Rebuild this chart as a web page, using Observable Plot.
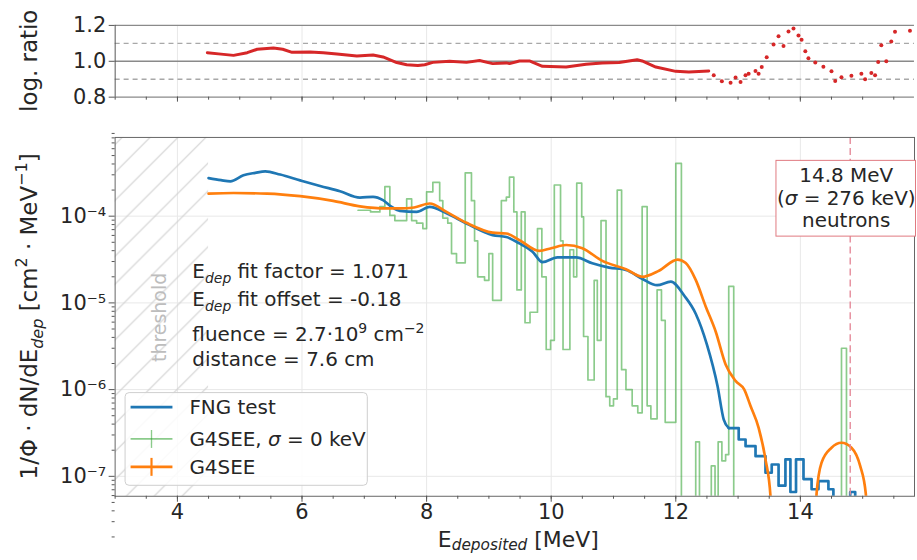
<!DOCTYPE html>
<html><head><meta charset="utf-8">
<script src="https://cdn.jsdelivr.net/npm/d3@7"></script>
<script src="https://cdn.jsdelivr.net/npm/@observablehq/plot@0.6"></script>
<style>
html,body{margin:0;padding:0;background:#fff;overflow:hidden;width:917px;height:560px}
#wrap{position:relative;width:917px;height:560px;overflow:hidden;background:#fff}
#top{position:absolute;left:0;top:0}
#bot{position:absolute;left:0;top:120px}
svg text{font-family:"DejaVu Sans",sans-serif}
</style></head><body><div id="wrap"><div id="top"></div><div id="bot"></div></div>
<script>
// ---------------- data ----------------
const xMajor = [4, 6, 8, 10, 12, 14];
const yMajor = [1e-7, 1e-6, 1e-5, 1e-4];
const ratioTicks = [0.8, 1.0, 1.2];
const ratioBands = [0.9, 1.1];
const thresholdRange = [3, 4.5];
const neutronEnergy = 14.8;

// FNG test (measured)
const blueE = [4.5, 4.7, 4.85, 5.06, 5.25, 5.41, 5.65, 5.97, 6.29, 6.61, 6.93, 7.14, 7.3, 7.44, 7.57, 7.84, 8.05, 8.32, 8.64, 9.06, 9.28, 9.49, 9.7, 9.86, 10.1, 10.4, 10.66, 10.93, 11.2, 11.46, 11.7, 11.92, 12.14, 12.32, 12.5, 12.67, 12.77, 12.85,
  13.01, 13.12, 13.28, 13.44, 13.54, 13.65, 13.76, 13.84, 13.93, 14.05, 14.18, 14.29, 14.45, 14.53, 14.8, 14.88, 15.0];
const blueV = [2.75e-4, 2.6e-4, 2.52e-4, 2.96e-4, 3.16e-4, 3.29e-4, 3.02e-4, 2.59e-4, 2.23e-4, 1.94e-4, 1.64e-4, 1.67e-4, 1.53e-4, 1.28e-4, 1.15e-4, 1.12e-4, 1.28e-4, 1.08e-4, 8.24e-5, 6.05e-5, 5.75e-5, 4.85e-5, 3.89e-5, 2.95e-5, 3.35e-5, 3.35e-5, 2.86e-5, 2.55e-5, 2.4e-5, 1.9e-5, 1.6e-5, 1.76e-5, 1.2e-5, 7.5e-6, 3.3e-6, 1.1e-6, 4.5e-7, 3.6e-7,
  2.66e-7, 2.23e-7, 1.71e-7, 1.1e-7, 1.37e-7, 7.8e-8, 1.57e-7, 6.6e-8, 1.57e-7, 9.3e-8, 7.1e-8, 8.8e-8, 7.1e-8, 0, 6.6e-8, 0, 0];
const blueStepFrom = 12.85;

// G4SEE, sigma = 0 keV (step histogram: left edge, value)
const greenE = [6.9, 7.1, 7.25, 7.33, 7.41, 7.49, 7.68, 7.76, 7.84, 7.94, 8.0, 8.1, 8.21, 8.26, 8.34, 8.4, 8.48, 8.62, 8.72, 8.77, 8.82, 8.93, 9.0, 9.06, 9.2, 9.28, 9.33, 9.4, 9.45, 9.52, 9.58, 9.66, 9.78, 9.85, 9.92, 9.99, 10.05, 10.15, 10.19, 10.3, 10.36, 10.41, 10.49, 10.52, 10.59, 10.69, 10.74, 10.8, 10.88, 10.94, 11.0, 11.06, 11.13, 11.2, 11.3, 11.39, 11.46, 11.54, 11.6, 11.7, 11.77, 11.83, 12.0, 12.09, 12.32, 12.38, 12.57, 12.63, 12.68, 12.74, 12.8, 12.85, 12.93, 14.66, 14.74, 15.0];
const greenV = [1.17e-4, 1.12e-4, 1.29e-4, 2.19e-4, 1.02e-4, 8.9e-5, 1.58e-4, 8.9e-5, 8.3e-5, 7.2e-5, 1.91e-4, 2.45e-4, 1.51e-4, 9.5e-5, 8.3e-5, 3.7e-5, 2.9e-5, 3.16e-4, 1.51e-4, 5.2e-5, 2.0e-5, 1.82e-5, 3.7e-5, 1.07e-5, 1.51e-4, 1.66e-4, 2.82e-4, 1.12e-4, 1.41e-5, 1.12e-4, 5.9e-6, 7.8e-6, 7.2e-5, 2.0e-5, 2.9e-6, 3.7e-6, 2.29e-4, 5.2e-5, 2.9e-6, 4.1e-5, 2.0e-5, 2.4e-4, 9.8e-5, 4.1e-6, 1.29e-6, 1.82e-5, 3.7e-6, 8.9e-5, 8.3e-7, 6.5e-7, 7.8e-7, 2.0e-4, 1.7e-6, 1.0e-6, 6.5e-7, 5.4e-7, 1.29e-4, 6.5e-7, 4.6e-7, 1.41e-5, 6.3e-6, 4.2e-7, 4.07e-4, 0, 2.5e-7, 0, 1.32e-7, 0, 2.5e-7, 1.51e-7, 1.78e-7, 1.55e-5, 0, 3.0e-6, 0, 0];

// G4SEE (smeared)
const orangeE = [4.5, 4.9, 5.44, 5.97, 6.5, 6.93, 7.36, 7.57, 7.8, 8.05, 8.32, 8.64, 9.06, 9.28, 9.49, 9.81, 10.0, 10.24, 10.5, 10.82, 11.2, 11.46, 11.73, 12.03, 12.16, 12.32, 12.48, 12.64, 12.8, 12.96, 13.1, 13.2, 13.33, 13.44, 13.52, 13.56, 14.21, 14.26, 14.34, 14.5, 14.66, 14.82, 14.96, 15.05, 15.1];
const orangeV = [1.82e-4, 1.85e-4, 1.82e-4, 1.7e-4, 1.5e-4, 1.3e-4, 1.23e-4, 1.23e-4, 1.26e-4, 1.4e-4, 1.12e-4, 8.38e-5, 6.46e-5, 6.31e-5, 5.3e-5, 3.98e-5, 4.27e-5, 4.65e-5, 4.27e-5, 3.05e-5, 2.45e-5, 2.0e-5, 2.35e-5, 3.16e-5, 2.88e-5, 1.84e-5, 9.1e-6, 4.68e-6, 1.95e-6, 1.26e-6, 1.0e-6, 6.46e-7, 3.63e-7, 1.57e-7, 5.9e-8, 0, 0, 6.3e-8, 1.44e-7, 2.14e-7, 2.44e-7, 2.14e-7, 1.32e-7, 6.3e-8, 0];

// log. ratio
const ratioE = [4.48, 4.7, 4.9, 5.12, 5.28, 5.54, 5.69, 5.84, 6.13, 6.34, 6.56, 6.88, 7.14, 7.3, 7.52, 7.68, 7.86, 7.97, 8.1, 8.37, 8.64, 8.85, 9.06, 9.28, 9.33, 9.49, 9.65, 9.86, 10.24, 10.56, 10.82, 11.09, 11.38, 11.46, 11.68, 12.0, 12.21, 12.53,
  12.61, 12.74, 12.88, 12.96, 13.04, 13.12, 13.17, 13.28, 13.33, 13.38, 13.46, 13.57, 13.65, 13.73, 13.81, 13.89, 13.97, 14.02, 14.08, 14.13, 14.24, 14.37, 14.5, 14.56, 14.66, 14.82, 14.98, 15.04, 15.14, 15.2, 15.25, 15.3, 15.38, 15.46, 15.52, 15.76];
const ratioV = [1.048, 1.04, 1.033, 1.048, 1.067, 1.074, 1.067, 1.05, 1.052, 1.048, 1.041, 1.03, 1.035, 1.024, 0.993, 0.981, 0.976, 0.981, 0.994, 1.0, 0.994, 1.004, 0.987, 0.991, 0.987, 1.002, 1.002, 0.972, 0.968, 0.983, 0.991, 0.993, 1.009, 1.002, 0.968, 0.944, 0.94, 0.946,
  0.922, 0.889, 0.88, 0.91, 0.885, 0.922, 0.93, 0.946, 0.93, 0.968, 1.022, 1.094, 1.139, 1.085, 1.166, 1.183, 1.144, 1.12, 1.056, 1.017, 0.993, 0.97, 0.944, 0.89, 0.911, 0.92, 0.93, 0.9, 0.935, 0.922, 0.996, 1.09, 1.0, 1.11, 1.165, 1.17];
const ratioDenseUntil = 12.55;

// ---------------- build ----------------
const FLOOR = 1e-9; // zero counts drawn below the axis on log scale
const toRows = (E, V) => E.map((x, i) => ({x, y: V[i] > 0 ? V[i] : FLOOR}));
const blue = toRows(blueE, blueV);
const green = toRows(greenE, greenV);
const orange = toRows(orangeE, orangeV);
const ratio = ratioE.map((x, i) => ({x, y: ratioV[i]}));

const W = 920, ML = 115, MR = 3;
const xDomain = [3, 3 + (917 - ML) / 62.5];
const xMinor = d3.range(3, 16, 0.5);
const yMinor = [];
for (let e = -8; e <= -4; e++) for (let m = 2; m <= 9; m++) yMinor.push(m * Math.pow(10, e));
const sup = {"-": "⁻", "0": "⁰", "1": "¹", "2": "²", "3": "³", "4": "⁴", "5": "⁵", "6": "⁶", "7": "⁷", "8": "⁸", "9": "⁹"};
const logFmt = d => "10" + String(Math.round(Math.log10(d))).split("").map(c => sup[c]).join("");
const FONT = "DejaVu Sans";
const TXT = "#262626";

const topPlot = Plot.plot({
  width: W, height: 120, marginLeft: ML, marginRight: MR, marginTop: 25, marginBottom: 23,
  style: {fontFamily: FONT, background: "white", color: TXT},
  x: {domain: xDomain},
  y: {domain: [0.8, 1.2]},
  marks: [
    Plot.gridX(xMajor, {stroke: "#e8e8e8", strokeOpacity: 1}),
    Plot.ruleY(ratioBands, {stroke: "#a8a8a8", strokeDasharray: "5,4", strokeWidth: 1.4}),
    Plot.ruleY([1.0], {stroke: "#8a8a8a", strokeWidth: 1.4}),
    Plot.ruleY([0.8, 1.2], {stroke: "#8a8a8a", strokeWidth: 1.2}),
    Plot.ruleX([xDomain[0]], {stroke: "#555", strokeWidth: 1}),
    Plot.line(ratio.filter(d => d.x <= ratioDenseUntil), {x: "x", y: "y", stroke: "#d62728", strokeWidth: 3}),
    Plot.dot(ratio.filter(d => d.x > ratioDenseUntil), {x: "x", y: "y", r: 2, fill: "#d62728", clip: true}),
    Plot.axisX({ticks: xMinor, tickSize: 3, text: null, label: null, stroke: "#555"}),
    Plot.axisX({ticks: xMajor, tickSize: 5, text: null, label: null, stroke: "#555"}),
    Plot.axisY({ticks: ratioTicks, tickSize: 6, tickPadding: 3, tickFormat: d3.format(".1f"), fontSize: 21, label: null, stroke: "#555"})
  ]
});

const botPlot = Plot.plot({
  width: W, height: 440, marginLeft: ML, marginRight: MR, marginTop: 17, marginBottom: 63,
  style: {fontFamily: FONT, background: "white", color: TXT},
  x: {domain: xDomain},
  y: {type: "log", domain: [5.89e-8, 8.09e-4]},
  marks: [
    Plot.gridX(xMajor, {stroke: "#e8e8e8", strokeOpacity: 1}),
    Plot.gridY(yMajor, {stroke: "#e8e8e8", strokeOpacity: 1}),
    Plot.rect([thresholdRange], {x1: d => d[0], x2: d => d[1], fill: "url(#hatch)"}),
    Plot.line(green, {x: "x", y: "y", curve: "step-after", stroke: "#2ca02c", strokeOpacity: 0.55, strokeWidth: 1.7, clip: true}),
    Plot.line(blue.filter(d => d.x <= blueStepFrom), {x: "x", y: "y", curve: "monotone-x", stroke: "#1f77b4", strokeWidth: 2.7, clip: true}),
    Plot.line(blue.filter(d => d.x >= blueStepFrom), {x: "x", y: "y", curve: "step-after", stroke: "#1f77b4", strokeWidth: 2.7, clip: true}),
    Plot.line(orange, {x: "x", y: "y", curve: "monotone-x", stroke: "#ff7f0e", strokeWidth: 2.7, clip: true}),
    Plot.ruleX([neutronEnergy], {stroke: "#e58a9a", strokeDasharray: "7,4", strokeWidth: 1.4}),
    Plot.frame({stroke: "#666", strokeWidth: 1}),
    Plot.axisX({ticks: xMinor, tickSize: 3, text: null, label: null, stroke: "#555"}),
    Plot.axisX({ticks: xMajor, tickSize: 6, tickPadding: 2, fontSize: 21, label: null, stroke: "#555"}),
    Plot.axisY({ticks: yMinor, tickSize: 3, text: null, label: null, stroke: "#555"}),
    Plot.axisY({ticks: yMajor, tickSize: 6, tickPadding: 3, tickFormat: logFmt, fontSize: 21, label: null, stroke: "#555"})
  ]
});

document.getElementById("top").appendChild(topPlot);
document.getElementById("bot").appendChild(botPlot);

// ---------------- decorations ----------------
const bs = d3.select(botPlot);
const ts = d3.select(topPlot);
const defs = bs.insert("defs", ":first-child");
const pat = defs.append("pattern").attr("id", "hatch").attr("patternUnits", "userSpaceOnUse").attr("width", 28).attr("height", 28);
pat.append("path").attr("d", "M-7,7 L7,-7 M0,28 L28,0 M21,35 L35,21").attr("stroke", "#d0d0d0").attr("stroke-width", 1.1).attr("fill", "none");

function rich(sel, x, y, parts, opts = {}) {
  const base = opts.size || 20;
  const t = sel.append("text").attr("x", x).attr("y", y).attr("fill", opts.fill || TXT)
    .attr("font-size", base).attr("font-family", FONT)
    .attr("text-anchor", opts.anchor || "start");
  if (opts.transform) t.attr("transform", opts.transform).attr("x", 0).attr("y", 0);
  let shift = 0;
  parts.forEach(p => {
    const [s, kind] = typeof p === "string" ? [p, ""] : p;
    const ts2 = t.append("tspan").text(s);
    let target = 0, size = base, style = null;
    if (kind.includes("sub")) { target = base * (opts.subShift || 0.25); size = base * 0.7; }
    if (kind.includes("sup")) { target = -base * 0.42; size = base * 0.7; }
    if (kind.includes("it")) style = "italic";
    ts2.attr("dy", target - shift).attr("font-size", size);
    if (style) ts2.attr("font-style", style);
    shift = target;
  });
  return t;
}

// threshold
bs.append("text").attr("transform", "translate(167,198) rotate(-90)").attr("text-anchor", "middle")
  .attr("font-size", 19).attr("fill", "#bdbdbd").attr("font-family", FONT).text("threshold");

// fit annotations
rich(bs, 193, 159, ["E", ["dep", "sub it"], " fit factor = 1.071"]);
rich(bs, 193, 187, ["E", ["dep", "sub it"], " fit offset = -0.18"]);
rich(bs, 193, 222, ["fluence = 2.7·10", ["9", "sup"], " cm", ["−2", "sup"]]);
rich(bs, 193, 247, ["distance = 7.6 cm"]);

// neutron box
bs.append("rect").attr("x", 778.5).attr("y", 40.5).attr("width", 140).attr("height", 76)
  .attr("fill", "white").attr("stroke", "#e07a80").attr("stroke-width", 1);
rich(bs, 849, 62, ["14.8 MeV"], {anchor: "middle"});
rich(bs, 849, 85, ["(", ["σ", "it"], " = 276 keV)"], {anchor: "middle"});
rich(bs, 849, 107, ["neutrons"], {anchor: "middle"});

// legend
const lg = bs.append("g");
lg.append("rect").attr("x", 125.5).attr("y", 273.5).attr("width", 243).attr("height", 93).attr("rx", 4)
  .attr("fill", "white").attr("fill-opacity", 0.85).attr("stroke", "#cfcfcf");
const rows = [
  {y: 288, color: "#1f77b4", w: 2.7, op: 1, bar: false, label: ["FNG test"]},
  {y: 320, color: "#2ca02c", w: 1.7, op: 0.55, bar: true, label: ["G4SEE, ", ["σ", "it"], " = 0 keV"]},
  {y: 348, color: "#ff7f0e", w: 2.7, op: 1, bar: true, label: ["G4SEE"]}
];
rows.forEach(r => {
  lg.append("line").attr("x1", 131).attr("x2", 173).attr("y1", r.y).attr("y2", r.y)
    .attr("stroke", r.color).attr("stroke-width", r.w).attr("stroke-opacity", r.op);
  if (r.bar) lg.append("line").attr("x1", 152).attr("x2", 152).attr("y1", r.y - 9).attr("y2", r.y + 9)
    .attr("stroke", r.color).attr("stroke-width", r.w * 0.8).attr("stroke-opacity", r.op);
  rich(lg, 190, r.y + 7, r.label);
});

// axis labels
rich(bs, 520, 428, ["E", ["deposited", "sub it"], " [MeV]"], {anchor: "middle", size: 22, subShift: 0.16});
rich(bs, 0, 0, ["1/Φ · dN/dE", ["dep", "sub it"], " [cm", ["2", "sup"], " · MeV", ["−1", "sup"], "]"],
  {anchor: "middle", size: 23, transform: "translate(37,197) rotate(-90)"});
rich(ts, 0, 0, ["log. ratio"], {anchor: "middle", size: 23, transform: "translate(37,61) rotate(-90)"});
</script></body></html>
